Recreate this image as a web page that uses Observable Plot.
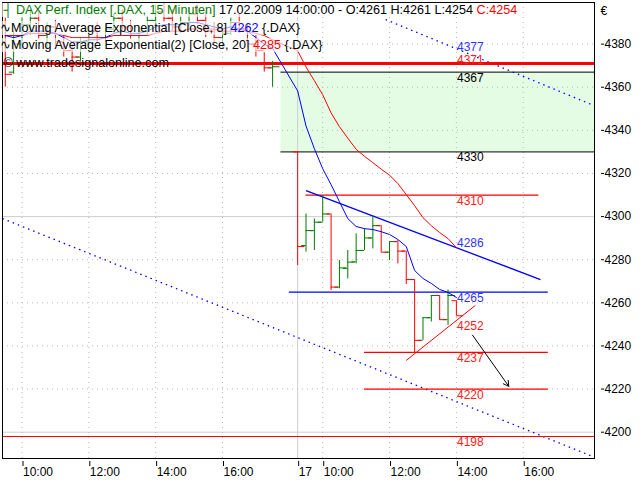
<!DOCTYPE html>
<html><head><meta charset="utf-8">
<script src="https://cdn.jsdelivr.net/npm/d3@7"></script>
<script src="https://cdn.jsdelivr.net/npm/@observablehq/plot@0.6"></script>
<style>
body{margin:0;background:#fff}
#wrap{position:relative;width:640px;height:480px;font-family:"Liberation Sans",Arial,sans-serif}
#legend{position:absolute;left:0;top:2px;font-size:12.6px;line-height:17.6px;color:#000}
#legend div{white-space:nowrap}
#legend span.bg{background:rgba(255,255,255,0.62)}
.g{color:#007a00}.r{color:#ff0000}.b{color:#0000ff}
</style></head><body>
<div id="wrap">
<div id="legend">
<div><span class="bg"><span class="g">&nbsp;┤ DAX Perf. Index [.DAX, 15 Minuten]</span> 17.02.2009 14:00:00 - O:4261 H:4261 L:4254 <span class="r">C:4254</span></span></div>
<div><span class="bg">∿Moving Average Exponential [Close, 8] <span class="b">4262</span> {.DAX}</span></div>
<div><span class="bg">∿Moving Average Exponential(2) [Close, 20] <span class="r">4285</span> {.DAX}</span></div>
<div><span>&nbsp;© www.tradesignalonline.com</span></div>
</div>
</div>
<script>
// ---- data ----
const barTimes = [
 "16 09:30","16 09:45","16 10:00","16 10:15","16 10:30","16 10:45","16 11:00","16 11:15","16 11:30","16 11:45",
 "16 12:00","16 12:15","16 12:30","16 12:45","16 13:00","16 13:15","16 13:30","16 13:45","16 14:00","16 14:15",
 "16 14:30","16 14:45","16 15:00","16 15:15","16 15:30","16 15:45","16 16:00","16 16:15","16 16:30","16 16:45",
 "16 17:00","16 17:15","16 17:30",
 "17 09:15","17 09:30","17 09:45","17 10:00","17 10:15","17 10:30","17 10:45","17 11:00","17 11:15","17 11:30",
 "17 11:45","17 12:00","17 12:15","17 12:30","17 12:45","17 13:00","17 13:15","17 13:30","17 13:45","17 14:00"];
const barOpen = [
 4388,4367,4380,4389,4392,4384,4388,4381,4377,4374,4381,4386,4383,4387,4392,4388,4384,4386,4391,4395,
 4392,4388,4390,4394,4391,4386,4383,4385,4390,4387,4380,4377,4369,
 4330,4286.6,4293.5,4297.4,4301.2,4267.3,4276,4279,4284.3,4290.1,4295.8,4283.5,4288.4,4284,4270.8,4242.6,4253.1,4263.4,4252.2,4261];
const barHigh = [
 4392,4386,4392,4396,4395,4390,4391,4384,4380,4383,4388,4390,4389,4394,4396,4391,4388,4393,4398,4399,
 4396,4393,4397,4398,4395,4390,4387,4392,4394,4389,4384,4376,4372,
 4330,4301.2,4298.9,4309.7,4301.2,4279.6,4284.3,4292,4294.3,4300.5,4295.8,4288.1,4288.9,4284,4270.8,4253.1,4263.4,4263.4,4266,4261];
const barLow = [
 4360,4366,4377,4384,4382,4378,4379,4374,4367,4372,4379,4380,4381,4385,4386,4382,4379,4384,4389,4390,
 4386,4385,4388,4389,4383,4380,4378,4384,4385,4378,4374,4367,4360,
 4277.3,4283.5,4284.3,4297.4,4265.7,4266.5,4271.1,4278.1,4284.3,4285,4283.5,4279.6,4278.1,4268.5,4236.7,4242.6,4251.1,4251.9,4249.5,4254];
const barClose = [
 4366,4380,4389,4392,4384,4388,4381,4377,4374,4381,4386,4383,4387,4392,4388,4384,4386,4391,4395,4392,
 4388,4390,4394,4391,4386,4383,4385,4390,4387,4380,4377,4369,4369.5,
 4286.1,4293.5,4297.4,4301.2,4267.3,4276.2,4278.9,4284.3,4290.1,4295.8,4283.5,4288.4,4284,4270.8,4242.6,4253.1,4263.4,4252.2,4263.4,4254];
const ema8 = [
 4384,4383,4384,4386,4386,4386,4385,4383,4381,4381,4382,4382,4383,4385,4386,4385,4385,4386,4388,4389,
 4389,4389,4390,4390,4389,4388,4387,4388,4387,4386,4383,4380,4378,
 4358.3,4342,4331.5,4322.2,4314.8,4306.9,4299.1,4295.4,4294.4,4294,4293,4291.7,4289.4,4286.1,4275,4271.3,4269,4266.2,4264.8,4262.5];
const ema20 = [
 4384,4384,4384,4385,4385,4385,4385,4384,4383,4383,4383,4383,4383,4384,4384,4384,4384,4384,4385,4386,
 4386,4386,4387,4387,4387,4387,4386,4386,4386,4386,4385,4384,4382,
 4376.9,4369.4,4363,4356.5,4348.1,4341.7,4336.4,4331.2,4328,4325,4322,4319.2,4315.3,4310.2,4305.1,4299.5,4295.8,4292.6,4289.8,4285.6];

const xDomain = ["16 09:25", "17 18:08"];
const yDomain = [4187.8, 4399.3];
const yTicks = [4200,4220,4240,4260,4280,4300,4320,4340,4360,4380];
const xTickTimes = ["16 10:00","16 12:00","16 14:00","16 16:00","17 09:15","17 10:00","17 12:00","17 14:00","17 16:00"];
const xTickLabels = ["10:00","12:00","14:00","16:00","17","10:00","12:00","14:00","16:00"];

const zone = {from: "16 17:45", low: 4330, high: 4367};
const blackLevels = [{v: 4367, from: "16 17:45", to: "17 18:08"}, {v: 4330, from: "16 17:45", to: "17 18:08"}];
const redLevels = [{v: 4310, from: "17 09:30", to: "17 16:28"}, {v: 4237, from: "17 11:15", to: "17 16:45"}, {v: 4220, from: "17 11:15", to: "17 16:45"}];
const blueLevels = [{v: 4265, from: "17 09:00", to: "17 16:45"}];
const thickRedLevel = [4371];
const fullRedLevel = [4198];
const blueTrend = [{t1: "17 09:30", v1: 4312, t2: "17 16:31", v2: 4270.8}];
const redTrend = [{t1: "17 12:30", v1: 4233.3, t2: "17 14:34", v2: 4258.8}];
const channel = [{t1: "16 09:25", v1: 4299.1, t2: "17 18:08", v2: 4188.4}, {t1: "17 11:53", v1: 4391.4, t2: "17 18:08", v2: 4351.4}];
const arrowSeg = [{t1: "17 14:29", v1: 4245, t2: "17 15:34", v2: 4221.3}];
const labelTime = "17 14:25";
const blueLabels = [4377, 4286, 4265];
const redLabels = [4371, 4310, 4252, 4237, 4220, 4198];
const blackLabels = [4367, 4330];
const aboveLabels = new Set([4377, 4371, 4286]);

// ---- helpers ----
const T = s => { const [d, hm] = s.split(" "); const [h, m] = hm.split(":").map(Number); return h + m / 60 + (d === "17" ? 9 : 0); };
const bars = barTimes.map((s, i) => ({t: T(s), o: barOpen[i], h: barHigh[i], l: barLow[i], c: barClose[i]}));
const up = bars.filter(d => d.c >= d.o), down = bars.filter(d => d.c < d.o);
const emaData = barTimes.map((s, i) => ({t: T(s), e8: ema8[i], e20: ema20[i]}));
const seg = a => a.map(d => ({x1: T(d.t1), y1: d.v1, x2: T(d.t2), y2: d.v2}));
const lev = a => a.map(d => ({v: d.v, x1: T(d.from), x2: T(d.to)}));
const xTickVals = xTickTimes.map(T);
const lblMap = new Map(xTickVals.map((v, i) => [v, xTickLabels[i]]));
const lblX = T(labelTime);
const labelsOf = a => a.map(v => ({v, x: lblX}));
const xMin = T(xDomain[0]), xMax = T(xDomain[1]);
const sepT = T("17 09:15");
const green = "#007a00";

const barMarks = (data, color) => [
  Plot.ruleX(data, {x: "t", y1: "l", y2: "h", stroke: color, clip: true}),
  Plot.ruleY(data, {y: "o", x1: d => d.t - 0.13, x2: "t", stroke: color, clip: true}),
  Plot.ruleY(data, {y: "c", x1: "t", x2: d => d.t + 0.22, stroke: color, clip: true})
];

const chart = Plot.plot({
  width: 640, height: 480,
  marginLeft: 2, marginRight: 46, marginTop: 2, marginBottom: 22,
  style: {fontFamily: "Liberation Sans, Arial, sans-serif", fontSize: "12px", background: "#fff", color: "#000"},
  x: {domain: [xMin, xMax]},
  y: {domain: yDomain},
  marks: [
    Plot.rect([zone], {x1: T(zone.from), x2: xMax, y1: "low", y2: "high", fill: "#e4fbe4", clip: true}),
    Plot.ruleY(yTicks.filter(v => v % 100 !== 0), {stroke: "#b8b8b8", strokeDasharray: "1,4"}),
    Plot.ruleY(yTicks.filter(v => v % 100 === 0), {stroke: "#cfcfcf"}),
    Plot.ruleX(xTickVals.filter(v => v !== sepT), {stroke: "#b8b8b8", strokeDasharray: "1,4"}),
    Plot.ruleX([sepT], {stroke: "#cfcfcf"}),
    Plot.ruleY(lev(blackLevels), {y: "v", x1: "x1", x2: "x2", stroke: "#000", clip: true}),
    Plot.link(seg(channel), {x1: "x1", y1: "y1", x2: "x2", y2: "y2", stroke: "#0000ff", strokeDasharray: "1.5,4", strokeWidth: 1.3, clip: true}),
    Plot.ruleY(fullRedLevel, {stroke: "#ff0000", strokeWidth: 1.2}),
    Plot.ruleY(thickRedLevel, {stroke: "#ff0000", strokeWidth: 3}),
    Plot.ruleY(lev(redLevels), {y: "v", x1: "x1", x2: "x2", stroke: "#ff0000", strokeWidth: 1.3, clip: true}),
    Plot.ruleY(lev(blueLevels), {y: "v", x1: "x1", x2: "x2", stroke: "#0000ff", strokeWidth: 1.3, clip: true}),
    Plot.link(seg(blueTrend), {x1: "x1", y1: "y1", x2: "x2", y2: "y2", stroke: "#0000ff", strokeWidth: 1.3}),
    Plot.link(seg(redTrend), {x1: "x1", y1: "y1", x2: "x2", y2: "y2", stroke: "#ff0000", strokeWidth: 1}),
    Plot.arrow(seg(arrowSeg), {x1: "x1", y1: "y1", x2: "x2", y2: "y2", stroke: "#000", headLength: 9, strokeWidth: 1}),
    ...barMarks(up, green),
    ...barMarks(down, "#ff0000"),
    Plot.line(emaData, {x: "t", y: "e20", stroke: "#ff0000", strokeWidth: 1, clip: true}),
    Plot.line(emaData, {x: "t", y: "e8", stroke: "#0000ff", strokeWidth: 1, clip: true}),
    ...[[blueLabels, "#3333ff"], [redLabels, "#ff2020"], [blackLabels, "#000"]].flatMap(([arr, col]) => [
      Plot.text(labelsOf(arr.filter(v => !aboveLabels.has(v))), {x: "x", y: "v", text: d => String(d.v), fill: col, lineAnchor: "top", dy: 1, fontSize: 12}),
      Plot.text(labelsOf(arr.filter(v => aboveLabels.has(v))), {x: "x", y: "v", text: d => String(d.v), fill: col, lineAnchor: "bottom", dy: 0, fontSize: 12})
    ]),
    Plot.frame({stroke: "#000"}),
    Plot.axisY(yTicks, {anchor: "right", tickSize: 3, dx: 6, tickPadding: 1, label: null, tickFormat: d => String(d)}),
    Plot.axisX(xTickVals, {anchor: "bottom", tickSize: 5, dy: 3, tickPadding: 1, label: null, textAnchor: "start", dx: 1, tickFormat: d => lblMap.get(d)}),
    Plot.text(["€"], {frameAnchor: "top-right", dx: 6, dy: 4, textAnchor: "start", lineAnchor: "top", fontSize: 12})
  ]
});
document.getElementById("wrap").prepend(chart);
</script>
</body></html>
